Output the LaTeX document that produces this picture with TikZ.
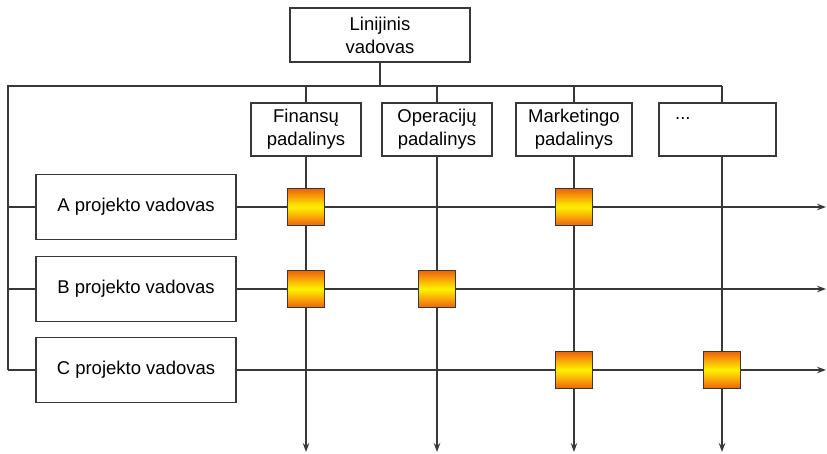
\documentclass[tikz,border=0pt]{standalone}
\usepackage{fontspec}
\setmainfont{Liberation Sans}
\usetikzlibrary{arrows.meta}
\definecolor{linec}{HTML}{383838}
\definecolor{warmorange}{HTML}{F0620E}
\definecolor{warmyellow}{HTML}{FFF200}
\begin{document}
\begin{tikzpicture}[x=1pt,y=-1pt,
  every node/.style={font=\fontsize{18.5}{23}\selectfont, text=black},
  box/.style={draw=linec, line width=1.4pt, fill=white, inner sep=0pt, align=center},
  link/.style={draw=linec, line width=1.6pt},
  flow/.style={link, -{Stealth[length=9pt,width=6.5pt]}},
  cell/.style={draw=linec, line width=1.4pt, minimum width=37pt, minimum height=37pt,
    inner sep=0pt, top color=warmorange, bottom color=warmorange, middle color=warmyellow}
]
\useasboundingbox (0,0) rectangle (827,454);

% connector points
\coordinate (tl) at (8,86);
\coordinate (tr) at (722,86);
\coordinate (bl) at (8,370);
\coordinate (hub) at (380,86);
\coordinate (aEnd) at (826,207);
\coordinate (bEnd) at (826,289);
\coordinate (cEnd) at (826,370);
\coordinate (finEnd) at (306,452);
\coordinate (opEnd) at (437,452);
\coordinate (mkEnd) at (574,452);
\coordinate (etcEnd) at (722,452);
\coordinate (aRow) at (136,207);
\coordinate (bRow) at (136,289);
\coordinate (cRow) at (136,370);

% distribution lines
\draw[link] (380,62) -- (hub);
\draw[link] (bl) -- (tl) -- (tr);
\draw[link] (306,103) -- (306,86);
\draw[link] (437,103) -- (437,86);
\draw[link] (574,103) -- (574,86);
\draw[link] (tr) -- (722,103);
\draw[link] (aRow -| tl) -- (aRow);
\draw[link] (bRow -| tl) -- (bRow);
\draw[link] (bl) -- (cRow);

% department and project flows
\draw[flow] (306,156) -- (finEnd);
\draw[flow] (437,156) -- (opEnd);
\draw[flow] (574,156) -- (mkEnd);
\draw[flow] (722,156) -- (etcEnd);
\draw[flow] (aRow) -- (aEnd);
\draw[flow] (bRow) -- (bEnd);
\draw[flow] (cRow) -- (cEnd);

% line manager
\node[box, minimum width=180pt, minimum height=54pt] (lm) at (380,35) {Linijinis\\vadovas};

% functional departments
\node[box, minimum width=110pt, minimum height=53pt] (fin) at (306,129.5) {Finansų\\padalinys};
\node[box, minimum width=110pt, minimum height=53pt] (op) at (437,129.5) {Operacijų\\padalinys};
\node[box, minimum width=116pt, minimum height=53pt] (mk) at (574,129.5) {Marketingo\\padalinys};
\node[box, minimum width=117pt, minimum height=53pt] (etc) at (717.5,129.5) {};
\node[anchor=west, inner sep=0pt] (dots) at (675,119) {...};

% project managers
\node[box, minimum width=200pt, minimum height=65pt] (pa) at (aRow) {A projekto vadovas};
\node[box, minimum width=200pt, minimum height=65pt] (pb) at (bRow) {B projekto vadovas};
\node[box, minimum width=200pt, minimum height=65pt] (pc) at (cRow) {C projekto vadovas};

% assignment cells
\node[cell] (afin) at (306,207) {};
\node[cell] (amk) at (574,207) {};
\node[cell] (bfin) at (306,289) {};
\node[cell] (bop) at (437,289) {};
\node[cell] (cmk) at (574,370) {};
\node[cell] (cetc) at (722,370) {};
\end{tikzpicture}
\end{document}
